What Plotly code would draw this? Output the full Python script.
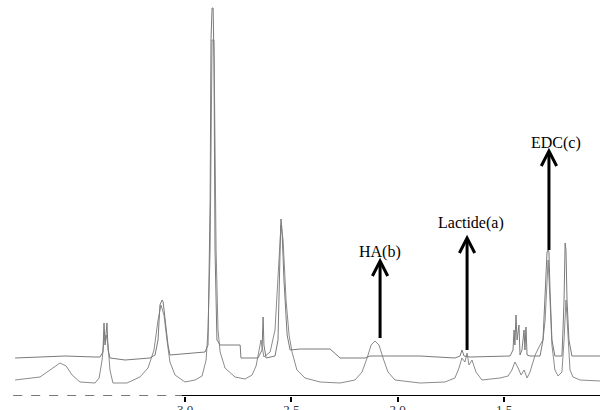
import plotly.graph_objects as go

# Upper spectrum (sharp peaks), chemical shift in ppm and intensity (a.u.)
upper_ppm = [3.799, 3.682, 3.564, 3.423, 3.400, 3.386, 3.381, 3.376, 3.371, 3.367, 3.362, 3.353,
             3.282, 3.165, 3.141, 3.127, 3.118, 3.108, 3.103, 3.094, 3.080, 3.071, 3.000, 2.906,
             2.892, 2.882, 2.878, 2.873, 2.868, 2.864, 2.859, 2.850, 2.835, 2.741, 2.737, 2.657,
             2.638, 2.633, 2.629, 2.619, 2.577, 2.563, 2.553, 2.549, 2.544, 2.535, 2.520, 2.506,
             2.459, 2.318, 2.271, 2.154, 2.130, 1.895, 1.731, 1.707, 1.698, 1.688, 1.660, 1.472,
             1.458, 1.453, 1.449, 1.444, 1.439, 1.430, 1.425, 1.416, 1.406, 1.402, 1.397, 1.392,
             1.378, 1.331, 1.317, 1.307, 1.303, 1.298, 1.293, 1.289, 1.284, 1.279, 1.275, 1.261,
             1.228, 1.223, 1.218, 1.213, 1.209, 1.204, 1.195, 1.181, 1.049]
upper_int = [38, 39, 40, 39, 39, 44, 73, 51, 66, 73, 46, 38,
             36, 38, 41, 56, 91, 96, 94, 76, 51, 41, 42, 44,
             51, 196, 356, 388, 388, 336, 146, 56, 51, 51, 38, 38,
             46, 79, 51, 38, 40, 56, 146, 177, 166, 116, 61, 46,
             47, 47, 38, 38, 40, 40, 38, 40, 46, 40, 39, 40,
             46, 66, 51, 81, 56, 71, 41, 46, 66, 46, 69, 41,
             40, 40, 56, 96, 126, 144, 146, 144, 106, 86, 56, 40,
             40, 66, 96, 153, 146, 96, 56, 40, 40]

# Lower spectrum (broad signals)
lower_ppm = [3.799, 3.682, 3.635, 3.588, 3.559, 3.531, 3.494, 3.423, 3.404, 3.390, 3.381, 3.371,
             3.362, 3.353, 3.339, 3.273, 3.212, 3.174, 3.146, 3.127, 3.113, 3.099, 3.085, 3.071,
             3.047, 3.000, 2.953, 2.920, 2.901, 2.892, 2.882, 2.873, 2.864, 2.854, 2.845, 2.835,
             2.812, 2.765, 2.718, 2.685, 2.666, 2.652, 2.643, 2.629, 2.600, 2.577, 2.558, 2.549,
             2.539, 2.525, 2.511, 2.497, 2.474, 2.436, 2.365, 2.271, 2.201, 2.168, 2.144, 2.125,
             2.107, 2.088, 2.069, 2.046, 2.013, 1.895, 1.778, 1.731, 1.712, 1.698, 1.684, 1.674,
             1.665, 1.651, 1.632, 1.604, 1.519, 1.481, 1.463, 1.449, 1.434, 1.420, 1.406, 1.392,
             1.378, 1.354, 1.331, 1.317, 1.307, 1.293, 1.284, 1.275, 1.261, 1.246, 1.228, 1.218,
             1.209, 1.199, 1.190, 1.176, 1.143, 1.049]
lower_int = [16, 19, 26, 33, 30, 21, 14, 13, 18, 36, 56, 61,
             51, 26, 13, 13, 19, 28, 46, 76, 91, 81, 56, 34,
             21, 14, 16, 20, 36, 66, 146, 356, 356, 146, 66, 44,
             28, 19, 17, 21, 30, 46, 56, 39, 44, 66, 146, 171,
             156, 96, 61, 44, 26, 18, 14, 13, 16, 24, 38, 51,
             55, 51, 38, 24, 16, 13, 14, 18, 28, 38, 34, 43,
             31, 36, 24, 16, 18, 20, 26, 34, 28, 21, 26, 18,
             24, 41, 51, 56, 76, 136, 96, 51, 26, 20, 24, 56,
             96, 56, 26, 19, 16, 15]

tick_vals = [3.0, 2.5, 2.0, 1.5]
tick_text = ["3.0", "2.5", "2.0", "1.5"]

# Peak labels: text, ppm, arrow bottom intensity, arrow tip intensity, label intensity
labels = ["HA(b)", "Lactide(a)", "EDC(c)"]
label_ppm = [2.083, 1.655, 1.256]
arrow_ppm = [2.083, 1.674, 1.289]
arrow_bottom = [58, 46, 146]
arrow_tip = [135, 158, 245]
label_y = [144, 173, 253]

x_range = [3.870, 1.049]

fig = go.Figure()
fig.add_trace(go.Scatter(x=lower_ppm, y=lower_int, mode="lines",
                         line=dict(color="#8c8c8c", width=1), hoverinfo="skip"))
fig.add_trace(go.Scatter(x=upper_ppm, y=upper_int, mode="lines",
                         line=dict(color="#7a7a7a", width=1), hoverinfo="skip"))

shapes = []
# baseline axis: dashed grey left part, solid black right part
shapes.append(dict(type="line", xref="x", yref="y", x0=3.808, x1=3.015, y0=0, y1=0,
                   line=dict(color="#777777", width=2, dash="dash")))
shapes.append(dict(type="line", xref="x", yref="y", x0=3.015, x1=1.049, y0=0, y1=0,
                   line=dict(color="black", width=2)))
arm_dx = 0.036
arm_dy = 15
for xa, yb, yt in zip(arrow_ppm, arrow_bottom, arrow_tip):
    shapes.append(dict(type="line", xref="x", yref="y", x0=xa, x1=xa, y0=yb, y1=yt - 1,
                       line=dict(color="black", width=3)))
    shapes.append(dict(type="path", xref="x", yref="y",
                       path=f"M {xa - arm_dx},{yt - arm_dy} L {xa},{yt} L {xa + arm_dx},{yt - arm_dy}",
                       line=dict(color="black", width=3)))

annotations = []
for t, xl, yl in zip(labels, label_ppm, label_y):
    annotations.append(dict(x=xl, y=yl, xref="x", yref="y", text=t, showarrow=False,
                            font=dict(family="Liberation Serif", size=16, color="black"),
                            xanchor="center", yanchor="middle"))

fig.update_layout(
    width=600, height=410,
    margin=dict(l=0, r=0, t=0, b=14, autoexpand=False),
    paper_bgcolor="white", plot_bgcolor="white",
    showlegend=False,
    shapes=shapes, annotations=annotations,
    xaxis=dict(range=x_range, showgrid=False, zeroline=False, showline=False,
               automargin=False,
               tickmode="array", tickvals=tick_vals, ticktext=tick_text,
               ticks="outside", ticklen=5, tickwidth=1.5, tickcolor="black",
               ticklabelstandoff=-4,
               tickfont=dict(family="Liberation Serif", size=13, color="#333333")),
    yaxis=dict(range=[0, 396], visible=False, automargin=False),
)

fig.write_html("out.html", config={"displayModeBar": False},
               post_script="document.body.style.margin='0';document.body.style.overflow='hidden';")
